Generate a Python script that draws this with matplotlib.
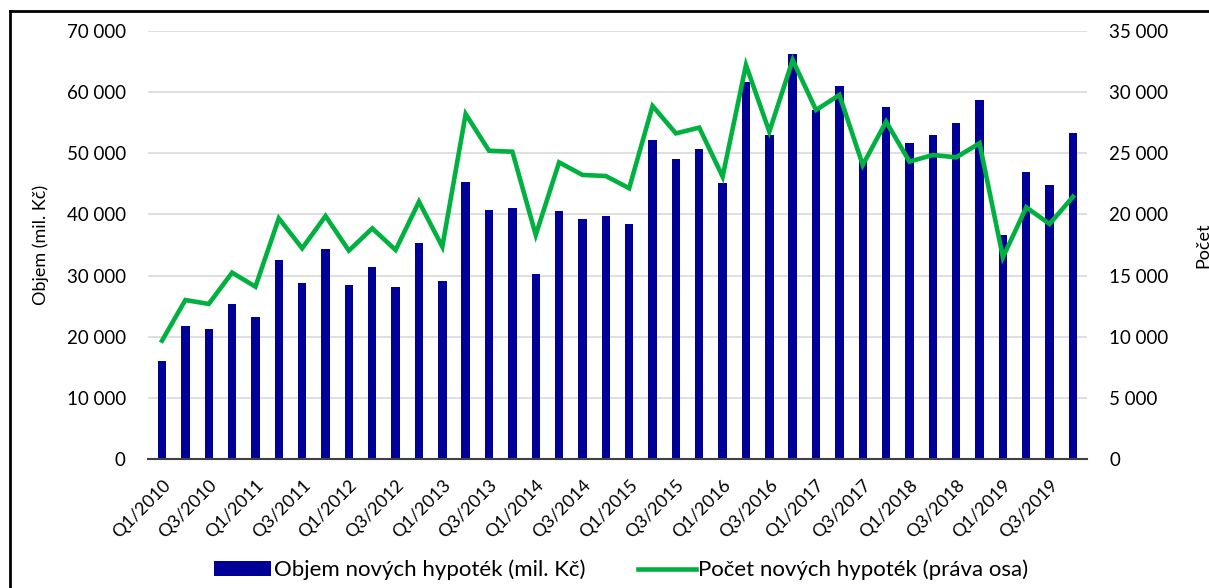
""" Objem a pocet novych hypotek """
import numpy as np
import matplotlib.pyplot as plt
from matplotlib.lines import Line2D
from matplotlib.ticker import FuncFormatter

plt.rcParams['font.family'] = ['Lato', 'DejaVu Sans']

# Data
quarters = ["Q%i/%i" % (q, y) for y in range(2010, 2020) for q in range(1, 5)]
objem = [16000, 21700, 21200, 25400, 23300, 32600, 28800, 34300,
         28500, 31400, 28100, 35300, 29100, 45300, 40800, 41000,
         30300, 40600, 39200, 39700, 38500, 52200, 49000, 50700,
         45200, 61600, 53000, 66200, 57000, 61000, 49000, 57500,
         51700, 53000, 55000, 58700, 36600, 47000, 44800, 53300]
pocet = [9680, 13000, 12680, 15240, 14090, 19680, 17230, 19870,
         17040, 18860, 17090, 21040, 17360, 28210, 25210, 25130,
         18320, 24260, 23230, 23140, 22140, 28870, 26630, 27100,
         23090, 32220, 26770, 32630, 28540, 29770, 24040, 27590,
         24320, 24860, 24670, 25820, 16490, 20580, 19220, 21450]

blue = '#000099'
green = '#00B140'

def thousands(v, pos):
    return "{:,.0f}".format(v).replace(",", " ")

fig = plt.figure(figsize=(12.09, 5.88), dpi=100)
ax = fig.add_axes([148/1209, 1-459/588, (1087-148)/1209, (459-31)/588])
ax2 = ax.twinx()

x = np.arange(len(quarters))
ax.bar(x, objem, width=0.36, color=blue, label="Objem nových hypoték (mil. Kč)", zorder=2)
ax2.plot(x, pocet, color=green, lw=3.3, solid_joinstyle='miter',
         label="Počet nových hypoték (práva osa)", zorder=3)

ax.set_xlim(-0.6, len(quarters) - 0.4)
ax.set_ylim(0, 70000)
ax2.set_ylim(0, 35000)
ax.set_yticks(np.arange(0, 70001, 10000))
ax2.set_yticks(np.arange(0, 35001, 5000))
ax.yaxis.set_major_formatter(FuncFormatter(thousands))
ax2.yaxis.set_major_formatter(FuncFormatter(thousands))
ax.grid(axis='y', color='#d9d9d9', lw=1.2, zorder=0)
ax.set_axisbelow(True)

ax.set_xticks(x[::2])
ax.set_xticklabels(quarters[::2], rotation=45, ha='right', rotation_mode='anchor', fontsize=13)
ax.tick_params(axis='x', length=0, pad=13)
ax.tick_params(axis='y', length=0, labelsize=13.5, pad=16)
ax2.tick_params(axis='y', length=0, labelsize=13.5, pad=16)

for a in (ax, ax2):
    for s in ['top', 'left', 'right']:
        a.spines[s].set_visible(False)
ax2.spines['bottom'].set_visible(False)
ax.spines['bottom'].set_color('#404040')
ax.spines['bottom'].set_linewidth(1.5)

ax.set_ylabel("Objem (mil. Kč)", fontsize=13)
ax.yaxis.set_label_coords(-0.105, 0.5)
fig.text(1203/1209, 1-245/588, "Počet", rotation=90, ha='center', va='center', fontsize=13)

h1, l1 = ax.get_legend_handles_labels()
h2, l2 = ax2.get_legend_handles_labels()
fig.legend(h1 + h2, l1 + l2, loc='center', bbox_to_anchor=(621/1209, 1-570/588),
           ncol=2, frameon=False, fontsize=16, handlelength=2.6, handletextpad=0.1,
           columnspacing=2.4)

# Frame lines (top and left)
fig.add_artist(Line2D([10/1209, 1], [1-11/588, 1-11/588], color='k', lw=2))
fig.add_artist(Line2D([10/1209, 10/1209], [0, 1-11/588], color='k', lw=2))

fig.savefig("out.png", dpi=100)
